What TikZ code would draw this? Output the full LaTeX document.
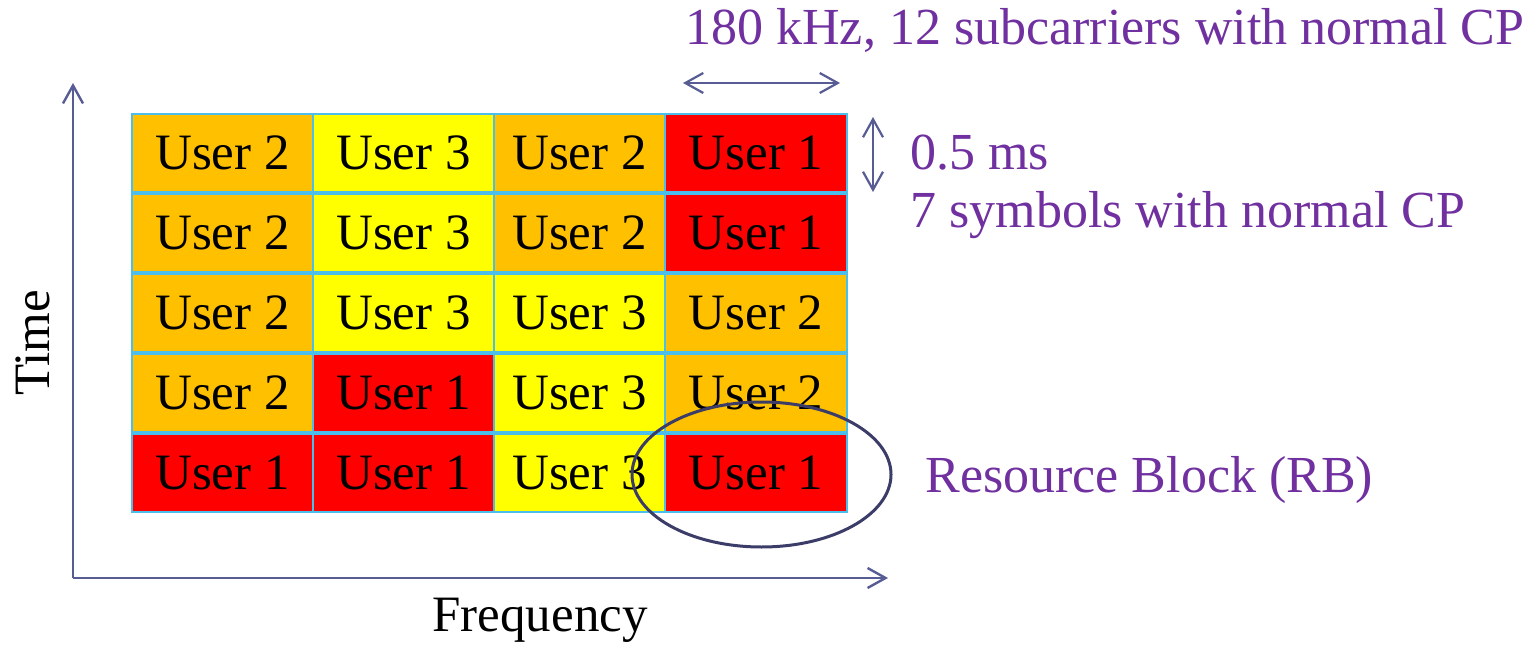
\documentclass[tikz,border=0pt]{standalone}
\usepackage{fontspec}
\setmainfont{Liberation Serif}
\usetikzlibrary{arrows.meta,shapes.geometric}
\definecolor{user1}{RGB}{255,0,0}
\definecolor{user2}{RGB}{255,192,0}
\definecolor{user3}{RGB}{255,255,0}
\definecolor{cellline}{RGB}{75,190,235}
\definecolor{labelcol}{RGB}{112,48,160}
\definecolor{axiscol}{RGB}{88,92,148}
\definecolor{ringcol}{RGB}{60,60,105}
\newcommand{\bigtext}{\fontsize{25.5}{30}\selectfont}
\newcommand{\notetext}{\fontsize{26}{30}\selectfont}
\begin{document}
\begin{tikzpicture}[x=0.5pt,y=-0.5pt,
  cell/.style={draw=cellline,line width=0.6pt,inner sep=0pt,minimum height=39pt,font=\bigtext},
  u1/.style={fill=user1}, u2/.style={fill=user2}, u3/.style={fill=user3},
  axis/.style={draw=axiscol,line width=1.2pt,-{Straight Barb[length=9pt,width=10pt]}},
  span/.style={draw=axiscol,line width=1.1pt,{Straight Barb[length=9pt,width=10pt]}-{Straight Barb[length=9pt,width=10pt]}},
  note/.style={text=labelcol,font=\notetext,inner sep=0pt}]
\useasboundingbox (0,0) rectangle (1540,646);
\foreach \row/\ulist in {0/{2,3,2,1},1/{2,3,2,1},2/{2,3,3,2},3/{2,1,3,2},4/{1,1,3,1}}{
  \foreach \u [count=\c] in \ulist {
    \pgfmathsetmacro\cx{{222.5,403.5,579.5,756}[\c-1]}
    \pgfmathsetmacro\w{{181,181,171,182}[\c-1]}
    \node[cell,u\u,minimum width=\w*0.5pt] (cell-\row-\c) at (\cx,153+80*\row) {User \u};
  }
}
\coordinate (origin) at (73,578);
\coordinate (ytop) at (73,83);
\coordinate (xend) at (888,578);
\draw[axis] (origin)--(ytop);
\draw[axis] (origin)--(xend);
\node[font=\bigtext,rotate=90] (time) at (33,343) {Time};
\node[font=\bigtext] (freq) at (540,620) {Frequency};
\coordinate (fa) at (683,83);
\coordinate (fb) at (840,83);
\draw[span] (fa)--(fb);
\coordinate (ta) at (873,117);
\coordinate (tb) at (873,192);
\draw[span] (ta)--(tb);
\node[note,anchor=base west] (bw) at (685,45) {180 kHz, 12 subcarriers with normal CP};
\node[note,anchor=base west] (slot) at (910,170) {0.5 ms};
\node[note,anchor=base west] (sym) at (910,228) {7 symbols with normal CP};
\node[draw=ringcol,line width=1.5pt,ellipse,minimum width=129.5pt,minimum height=72.5pt] (rb) at (761.5,474.5) {};
\node[note,anchor=base west] (rblabel) at (925,492) {Resource Block (RB)};
\end{tikzpicture}
\end{document}
